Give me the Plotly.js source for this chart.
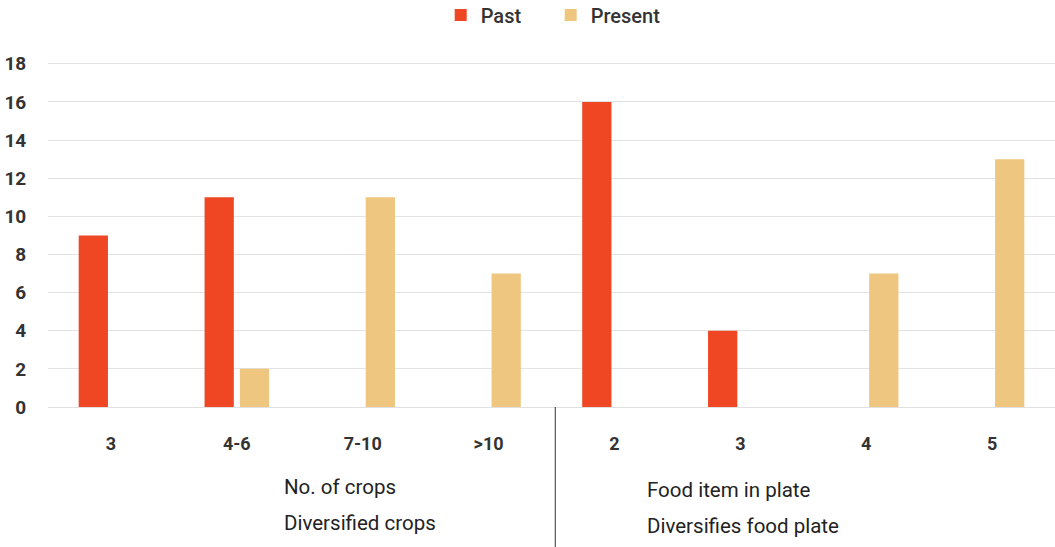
<!DOCTYPE html>
<html>
<head>
<meta charset="utf-8">
<script src="https://cdn.plot.ly/plotly-3.0.1.min.js"></script>
<style>html,body{margin:0;padding:0;background:#fff;}#chart{width:1055px;height:547px;}</style>
</head>
<body>
<div id="chart"></div>
<script>
const categories = ["3", "4-6", "7-10", ">10", "2", "3", "4", "5"];
const pastValues = [9, 11, 0, 0, 16, 4, 0, 0];
const presentValues = [0, 2, 11, 7, 0, 0, 7, 13];
const groupLabels = [
  ["No. of crops", "Diversified crops"],
  ["Food item in plate", "Diversifies food plate"]
];
const xIdx = categories.map((c, i) => i);
const FONT = "Roboto, 'DejaVu Sans', sans-serif";

const traces = [
  {type: "bar", name: "Past", x: xIdx, y: pastValues, marker: {color: "#ef4724", line: {width: 0}}, hoverinfo: "skip"},
  {type: "bar", name: "Present", x: xIdx, y: presentValues, marker: {color: "#eec67f", line: {width: 0}}, hoverinfo: "skip"}
];

const H = 547, T = 60, B = 140;
const plotH = H - T - B;

const layout = {
  width: 1055, height: 547,
  margin: {l: 48, r: 0, t: T, b: B, autoexpand: false},
  paper_bgcolor: "#fff", plot_bgcolor: "#fff",
  font: {family: FONT, color: "#333"},
  barmode: "group", bargap: 0.44, bargroupgap: 0.17,
  showlegend: true,
  legend: {orientation: "h", x: 0.522, xanchor: "center", xref: "container", y: 1 - 15 / H, yref: "container", yanchor: "middle",
    font: {size: 20, color: "#333", family: FONT, weight: 500}, itemwidth: 30, entrywidth: 65, traceorder: "normal"},
  xaxis: {
    tickmode: "array", tickvals: xIdx, ticktext: categories,
    range: [-0.5, categories.length - 0.5],
    showgrid: false, zeroline: false, showline: true, linecolor: "#e0e0e0", linewidth: 1,
    ticks: "outside", ticklen: 20, tickcolor: "rgba(0,0,0,0)",
    tickfont: {size: 18, family: FONT, color: "#333", weight: "bold"}
  },
  yaxis: {
    range: [0, 18.2], tickmode: "linear", tick0: 0, dtick: 2,
    showgrid: true, gridcolor: "#e3e3e3", gridwidth: 1,
    zeroline: true, zerolinecolor: "#e3e3e3", showline: false,
    ticks: "outside", ticklen: 17, tickcolor: "rgba(0,0,0,0)",
    tickfont: {size: 19, family: FONT, color: "#333", weight: "bold"}
  },
  shapes: [{
    type: "line", xref: "x", yref: "paper", x0: 3.53, x1: 3.53, y0: 0, y1: -B / plotH,
    line: {color: "#333", width: 1}
  }],
  annotations: []
};

const groupX = [1.355, 4.245];
const lineY = [[487, 523], [490, 526]];
groupLabels.forEach((g, gi) => {
  g.forEach((txt, li) => {
    const ypx = lineY[gi][li];
    layout.annotations.push({
      text: txt, xref: "x", yref: "paper", x: groupX[gi], xanchor: "left",
      y: (H - B - ypx) / plotH, yanchor: "middle", showarrow: false,
      font: {size: 20.5, family: FONT, color: "#222"}
    });
  });
});

Plotly.newPlot("chart", traces, layout, {displayModeBar: false, staticPlot: true});
</script>
</body>
</html>
